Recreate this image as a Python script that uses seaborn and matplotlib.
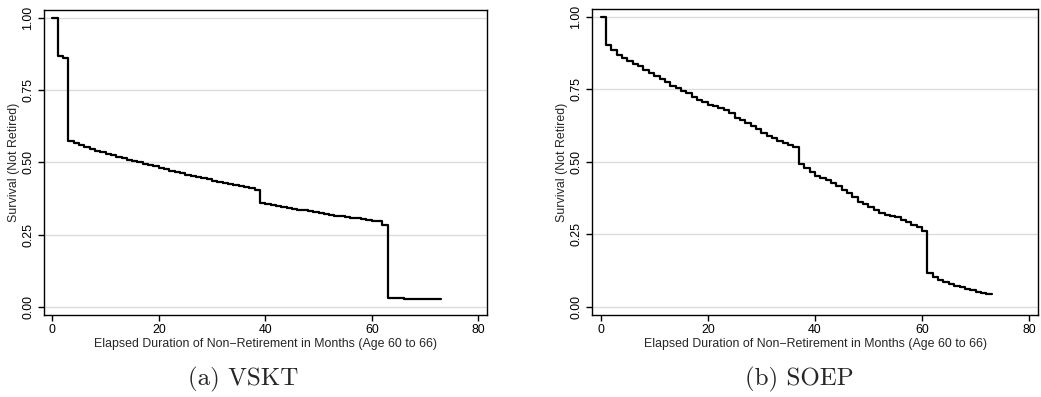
import pandas as pd
import seaborn as sns
import matplotlib.pyplot as plt
from matplotlib.ticker import FormatStrFormatter

# Kaplan-Meier Schätzungen, Monate seit Alter 60
months = list(range(0, 74))

vskt_survival = [1.000, 0.868, 0.862, 0.574,
                 0.566, 0.559, 0.552, 0.546, 0.540, 0.535, 0.530, 0.525, 0.520, 0.515,
                 0.510, 0.505, 0.500, 0.495, 0.491, 0.486, 0.481, 0.476, 0.471, 0.467,
                 0.462, 0.457, 0.453, 0.449, 0.445, 0.441, 0.437, 0.433, 0.429, 0.425,
                 0.421, 0.417, 0.414, 0.410, 0.406,
                 0.360, 0.356, 0.352, 0.349, 0.346, 0.343, 0.340, 0.337, 0.334, 0.331,
                 0.328, 0.325, 0.322, 0.319, 0.316, 0.313, 0.311, 0.308, 0.306, 0.304,
                 0.301, 0.299, 0.296, 0.285,
                 0.031, 0.030, 0.030, 0.029, 0.029, 0.029, 0.028, 0.028, 0.028, 0.028, 0.028]

soep_survival = [1.000,
                 0.901, 0.884, 0.869, 0.857, 0.848, 0.838, 0.829, 0.817, 0.806, 0.797,
                 0.785, 0.775, 0.763, 0.754, 0.745, 0.737, 0.725, 0.714, 0.706, 0.697,
                 0.691, 0.685, 0.679, 0.668, 0.651, 0.643, 0.633, 0.622, 0.613, 0.599,
                 0.590, 0.582, 0.572, 0.564, 0.559, 0.551,
                 0.493, 0.478, 0.464, 0.452, 0.444, 0.436, 0.426, 0.418, 0.403, 0.392,
                 0.380, 0.363, 0.354, 0.346, 0.334, 0.325, 0.317, 0.314, 0.309, 0.300,
                 0.292, 0.283, 0.274, 0.260,
                 0.116, 0.102, 0.093, 0.085, 0.078, 0.073, 0.068, 0.063, 0.058, 0.053,
                 0.048, 0.044, 0.044]

captions = ['(a) VSKT', '(b) SOEP']
x_ticks = [0, 20, 40, 60, 80]
y_ticks = [0.0, 0.25, 0.5, 0.75, 1.0]
xlabel = 'Elapsed Duration of Non\u2212Retirement in Months (Age 60 to 66)'
ylabel = 'Survival (Not Retired)'

sns.set_style('white')
plt.rcParams['font.family'] = ['Liberation Sans', 'DejaVu Sans']

fig = plt.figure(figsize=(10.41, 3.97), dpi=100)
ax1 = fig.add_axes([0.0423, 0.2065, 0.4253, 0.768])
ax2 = fig.add_axes([0.569, 0.2065, 0.4279, 0.771])

for ax, surv, cap, cx in [(ax1, vskt_survival, captions[0], 0.234),
                          (ax2, soep_survival, captions[1], 0.768)]:
    df = pd.DataFrame({'t': months, 's': surv})
    ax.yaxis.grid(True, color='#dcdcdc', linewidth=1.0)
    ax.set_axisbelow(True)
    sns.lineplot(data=df, x='t', y='s', ax=ax, color='black', linewidth=1.6,
                 drawstyle='steps-post', estimator=None)
    ax.set_xlim(-1.55, 81.6)
    ax.set_ylim(-0.028, 1.027)
    ax.set_xticks(x_ticks)
    ax.set_yticks(y_ticks)
    ax.yaxis.set_major_formatter(FormatStrFormatter('%.2f'))
    ax.tick_params(axis='both', direction='out', length=4, width=1, color='black',
                   labelsize=8.9, labelcolor='black', bottom=True, left=True)
    ax.tick_params(axis='x', pad=2.2)
    ax.tick_params(axis='y', pad=3.2)
    for lab in ax.get_yticklabels():
        lab.set_rotation(90)
        lab.set_va('center')
    ax.set_xlabel(xlabel, fontsize=8.9, labelpad=1.5)
    ax.set_ylabel(ylabel, fontsize=8.9, labelpad=1.5)
    for sp in ax.spines.values():
        sp.set_color('black')
        sp.set_linewidth(1.0)
    fig.text(cx, 0.029, cap, fontsize=18, family='cmr10', ha='center', va='baseline')

fig.savefig('out.png', dpi=100)
